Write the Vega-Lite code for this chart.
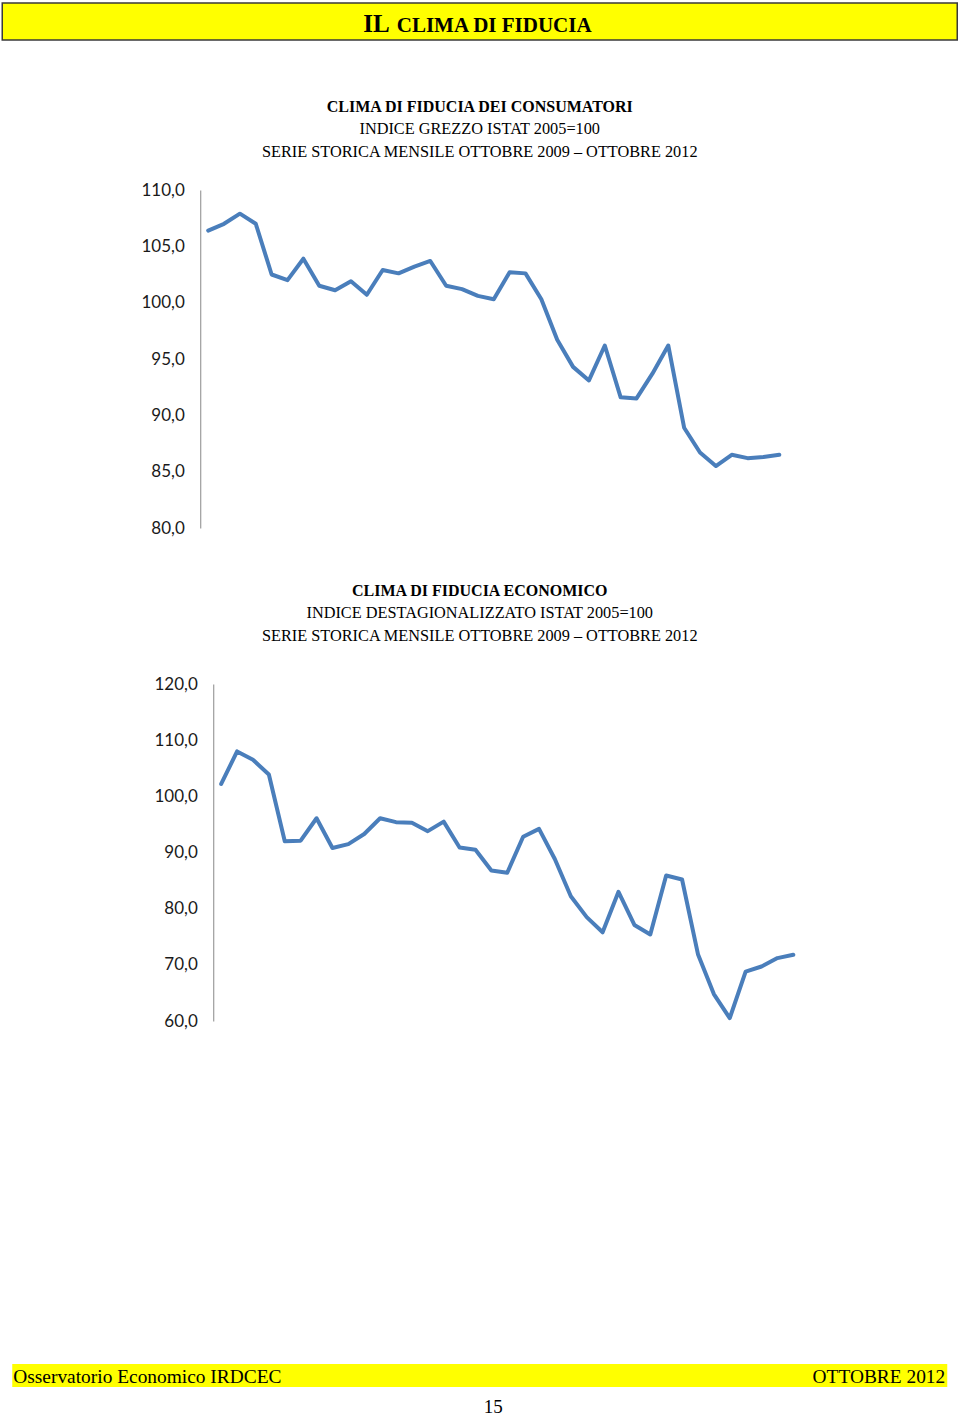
{
  "$schema": "https://vega.github.io/schema/vega-lite/v6.json",
  "padding": {"left": 1.25, "top": 2, "right": 0, "bottom": 0},
  "background": "white",
  "datasets": {
    "serie": [
      {"mese": "ott 2009", "consumatori": 106.4, "economico": 102.2},
      {"mese": "nov 2009", "consumatori": 107.0, "economico": 108.0},
      {"mese": "dic 2009", "consumatori": 107.9, "economico": 106.5},
      {"mese": "gen 2010", "consumatori": 107.0, "economico": 103.9},
      {"mese": "feb 2010", "consumatori": 102.5, "economico": 92.0},
      {"mese": "mar 2010", "consumatori": 102.0, "economico": 92.1},
      {"mese": "apr 2010", "consumatori": 103.9, "economico": 96.1},
      {"mese": "mag 2010", "consumatori": 101.5, "economico": 90.8},
      {"mese": "giu 2010", "consumatori": 101.1, "economico": 91.5},
      {"mese": "lug 2010", "consumatori": 101.9, "economico": 93.3},
      {"mese": "ago 2010", "consumatori": 100.7, "economico": 96.1},
      {"mese": "set 2010", "consumatori": 102.9, "economico": 95.4},
      {"mese": "ott 2010", "consumatori": 102.6, "economico": 95.3},
      {"mese": "nov 2010", "consumatori": 103.2, "economico": 93.8},
      {"mese": "dic 2010", "consumatori": 103.7, "economico": 95.5},
      {"mese": "gen 2011", "consumatori": 101.5, "economico": 90.9},
      {"mese": "feb 2011", "consumatori": 101.2, "economico": 90.5},
      {"mese": "mar 2011", "consumatori": 100.6, "economico": 86.8},
      {"mese": "apr 2011", "consumatori": 100.3, "economico": 86.4},
      {"mese": "mag 2011", "consumatori": 102.7, "economico": 92.8},
      {"mese": "giu 2011", "consumatori": 102.6, "economico": 94.2},
      {"mese": "lug 2011", "consumatori": 100.3, "economico": 88.8},
      {"mese": "ago 2011", "consumatori": 96.7, "economico": 82.2},
      {"mese": "set 2011", "consumatori": 94.3, "economico": 78.5},
      {"mese": "ott 2011", "consumatori": 93.1, "economico": 75.8},
      {"mese": "nov 2011", "consumatori": 96.2, "economico": 83.0},
      {"mese": "dic 2011", "consumatori": 91.6, "economico": 77.1},
      {"mese": "gen 2012", "consumatori": 91.5, "economico": 75.4},
      {"mese": "feb 2012", "consumatori": 93.7, "economico": 85.9},
      {"mese": "mar 2012", "consumatori": 96.2, "economico": 85.2},
      {"mese": "apr 2012", "consumatori": 88.9, "economico": 71.9},
      {"mese": "mag 2012", "consumatori": 86.7, "economico": 64.8},
      {"mese": "giu 2012", "consumatori": 85.5, "economico": 60.5},
      {"mese": "lug 2012", "consumatori": 86.5, "economico": 68.8},
      {"mese": "ago 2012", "consumatori": 86.2, "economico": 69.7},
      {"mese": "set 2012", "consumatori": 86.3, "economico": 71.2},
      {"mese": "ott 2012", "consumatori": 86.5, "economico": 71.8}
    ]
  },
  "config": {
    "view": {"stroke": null},
    "title": {
      "font": "Liberation Serif", "fontSize": 16, "fontWeight": "bold", "color": "#000000",
      "subtitleFont": "Liberation Serif", "subtitleFontSize": 16.3, "subtitleFontWeight": "normal",
      "subtitleColor": "#000000", "subtitlePadding": 6, "subtitleLineHeight": 23,
      "anchor": "middle", "frame": "group"
    },
    "axis": {
      "labelFont": "Lato", "labelFontSize": 17, "labelColor": "#1a1a1a",
      "domainColor": "#888888", "domainWidth": 1, "ticks": false, "tickSize": 0, "grid": false,
      "labelPadding": 16
    }
  },
  "spacing": 57,
  "vconcat": [
    {
      "width": 955,
      "height": 37,
      "view": {"fill": "#ffff00", "stroke": "#3a3a3a", "strokeWidth": 1.5},
      "data": {"values": [{"maiuscolo": "IL", "maiuscoletto": "CLIMA DI FIDUCIA"}]},
      "layer": [
        {
          "mark": {"type": "text", "align": "right", "baseline": "alphabetic", "dx": -90, "dy": 10.5, "font": "Liberation Serif", "fontSize": 25, "fontWeight": "bold", "color": "#000000"},
          "encoding": {"text": {"field": "maiuscolo"}}
        },
        {
          "mark": {"type": "text", "align": "left", "baseline": "alphabetic", "dx": -83, "dy": 10.5, "font": "Liberation Serif", "fontSize": 21, "fontWeight": "bold", "color": "#000000"},
          "encoding": {"text": {"field": "maiuscoletto"}}
        }
      ]
    },
    {
      "spacing": 334,
      "vconcat": [
        {
          "spacing": 46,
          "vconcat": [
            {
              "spacing": 0,
              "hconcat": [
                {
                  "width": 137,
                  "height": 10,
                  "data": {"values": [{"vuoto": ""}]},
                  "mark": {"type": "text"},
                  "encoding": {"text": {"field": "vuoto"}}
                },
                {
                  "width": 587,
                  "height": 338,
                  "title": {
                    "text": "CLIMA DI FIDUCIA DEI CONSUMATORI",
                    "subtitle": ["INDICE GREZZO ISTAT 2005=100", "SERIE STORICA MENSILE OTTOBRE 2009 – OTTOBRE 2012"],
                    "dx": -14, "offset": 21
                  },
                  "data": {"name": "serie"},
                  "mark": {"type": "line", "color": "#4a7ebb", "strokeWidth": 4, "strokeJoin": "round", "strokeCap": "round"},
                  "encoding": {
                    "x": {"field": "mese", "type": "ordinal", "sort": null, "scale": {"type": "point", "padding": 0.5}, "axis": null},
                    "y": {
                      "field": "consumatori", "type": "quantitative",
                      "scale": {"domain": [80, 110], "nice": false, "zero": false},
                      "axis": {"values": [80, 85, 90, 95, 100, 105, 110], "labelExpr": "replace(format(datum.value, '.1f'), '.', ',')", "title": null, "minExtent": 61, "maxExtent": 61}
                    }
                  }
                }
              ]
            },
            {
              "spacing": 0,
              "hconcat": [
                {
                  "width": 150,
                  "height": 10,
                  "data": {"values": [{"vuoto": ""}]},
                  "mark": {"type": "text"},
                  "encoding": {"text": {"field": "vuoto"}}
                },
                {
                  "width": 588,
                  "height": 337,
                  "title": {
                    "text": "CLIMA DI FIDUCIA ECONOMICO",
                    "subtitle": ["INDICE DESTAGIONALIZZATO ISTAT 2005=100", "SERIE STORICA MENSILE OTTOBRE 2009 – OTTOBRE 2012"],
                    "dx": -27.5, "offset": 31
                  },
                  "data": {"name": "serie"},
                  "mark": {"type": "line", "color": "#4a7ebb", "strokeWidth": 4, "strokeJoin": "round", "strokeCap": "round"},
                  "encoding": {
                    "x": {"field": "mese", "type": "ordinal", "sort": null, "scale": {"type": "point", "padding": 0.5}, "axis": null},
                    "y": {
                      "field": "economico", "type": "quantitative",
                      "scale": {"domain": [60, 120], "nice": false, "zero": false},
                      "axis": {"values": [60, 70, 80, 90, 100, 110, 120], "labelExpr": "replace(format(datum.value, '.1f'), '.', ',')", "title": null, "minExtent": 61, "maxExtent": 61}
                    }
                  }
                }
              ]
            }
          ]
        },
        {
          "spacing": 0,
          "hconcat": [
            {
              "width": 10,
              "height": 10,
              "data": {"values": [{"vuoto": ""}]},
              "mark": {"type": "text"},
              "encoding": {"text": {"field": "vuoto"}}
            },
            {
              "width": 935,
              "height": 23,
              "view": {"fill": "#ffff00", "stroke": null},
              "title": {"text": "15", "orient": "bottom", "anchor": "middle", "dx": 13.5, "offset": 11, "font": "Liberation Serif", "fontSize": 19, "fontWeight": "normal", "color": "#000000"},
              "data": {"values": [
                {"lato": "sinistra", "testo": "Osservatorio Economico IRDCEC"},
                {"lato": "destra", "testo": "OTTOBRE 2012"}
              ]},
              "encoding": {
                "x": {"field": "lato", "type": "nominal", "scale": {"type": "point", "domain": ["sinistra", "destra"], "padding": 0}, "axis": null},
                "text": {"field": "testo"}
              },
              "layer": [
                {
                  "transform": [{"filter": "datum.lato === 'sinistra'"}],
                  "mark": {"type": "text", "align": "left", "baseline": "alphabetic", "dx": 1, "dy": 7.5, "font": "Liberation Serif", "fontSize": 19.4, "color": "#000000"}
                },
                {
                  "transform": [{"filter": "datum.lato === 'destra'"}],
                  "mark": {"type": "text", "align": "right", "baseline": "alphabetic", "dx": -2, "dy": 7.5, "font": "Liberation Serif", "fontSize": 19.4, "color": "#000000"}
                }
              ]
            }
          ]
        }
      ]
    }
  ]
}
